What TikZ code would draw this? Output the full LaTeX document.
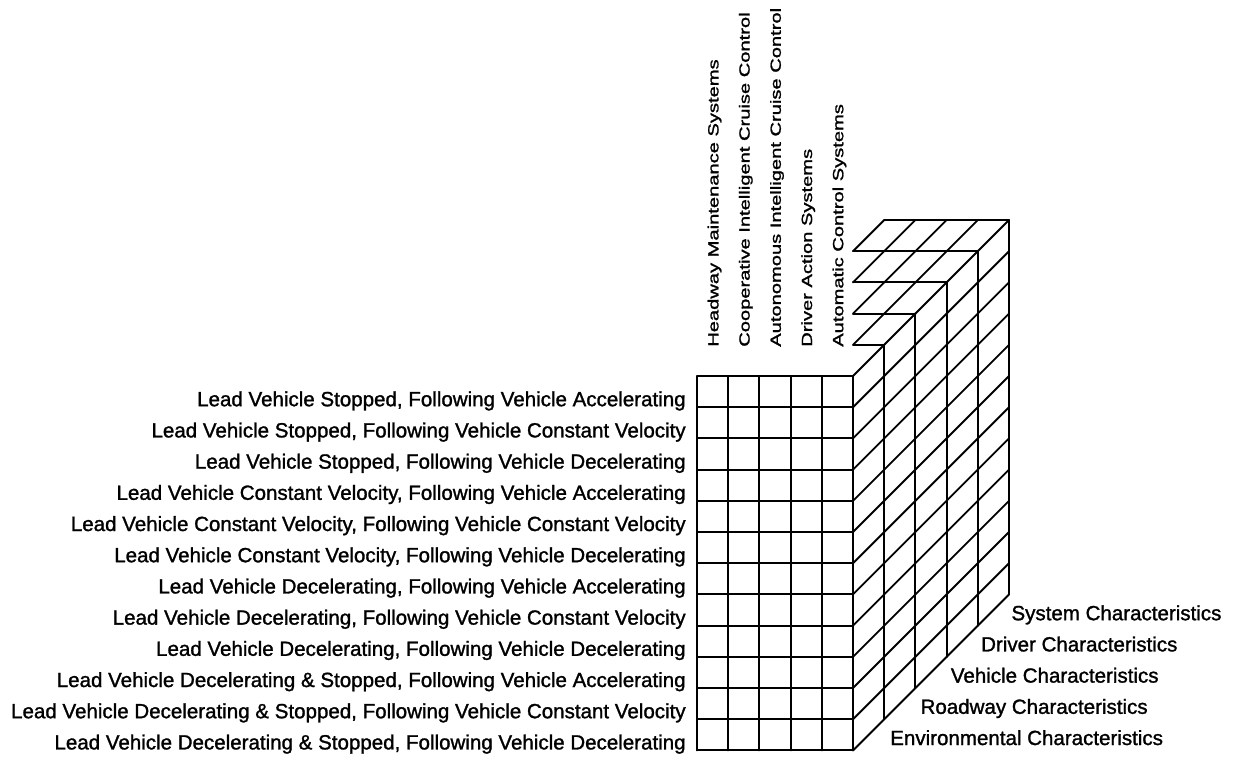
\documentclass[tikz,border=0pt]{standalone}
\usepackage{fontspec}
\newfontfamily\labfont{Liberation Sans}[FakeBold=1.3]
\begin{document}
\begin{tikzpicture}[x=0.75pt,y=-0.75pt,
  gridline/.style={line width=1.4pt,line cap=round,line join=round},
  rowlab/.style={font=\labfont\fontsize{15.4}{18}\selectfont,inner sep=0pt,anchor=base east},
  sidelab/.style={font=\labfont\fontsize{15.4}{18}\selectfont,inner sep=0pt,anchor=base west},
  collab/.style={font=\labfont\fontsize{15.4}{18}\selectfont,inner sep=0pt,anchor=west,rotate=90}]
\useasboundingbox (0,0) rectangle (1234,769);
\def\u{31.2}
\def\xl{697}
\def\xr{853}
\def\yt{376}
% front face grid
\foreach \j in {0,...,5}{
  \draw[gridline] ({\xl+\j*\u},\yt) -- ({\xl+\j*\u},{\yt+12*\u});
}
\foreach \i in {0,...,12}{
  \draw[gridline] (\xl,{\yt+\i*\u}) -- (\xr,{\yt+\i*\u});
}
% right face: verticals per depth slice
\foreach \k in {1,...,5}{
  \draw[gridline] ({\xr+\k*\u},{\yt-\k*\u}) -- ({\xr+\k*\u},{\yt+12*\u-\k*\u});
}
% right face: diagonals per row boundary
\foreach \i in {0,...,12}{
  \draw[gridline] (\xr,{\yt+\i*\u}) -- ({\xr+5*\u},{\yt+\i*\u-5*\u});
}
% top staircase: horizontal treads
\foreach \k in {1,...,4}{
  \draw[gridline] (\xr,{\yt-\k*\u}) -- ({\xr+\k*\u},{\yt-\k*\u});
}
\draw[gridline] ({\xr+\u},{\yt-5*\u}) -- ({\xr+5*\u},{\yt-5*\u});
% top staircase: diagonals
\foreach \k in {1,...,4}{
  \pgfmathtruncatemacro{\mm}{\k-1}
  \foreach \m in {0,...,\mm}{
    \draw[gridline] ({\xr+\m*\u},{\yt-\k*\u}) -- ({\xr+(\m+1)*\u},{\yt-(\k+1)*\u});
  }
}
% row labels
\foreach \t [count=\i] in {
  {Lead Vehicle Stopped, Following Vehicle Accelerating},
  {Lead Vehicle Stopped, Following Vehicle Constant Velocity},
  {Lead Vehicle Stopped, Following Vehicle Decelerating},
  {Lead Vehicle Constant Velocity, Following Vehicle Accelerating},
  {Lead Vehicle Constant Velocity, Following Vehicle Constant Velocity},
  {Lead Vehicle Constant Velocity, Following Vehicle Decelerating},
  {Lead Vehicle Decelerating, Following Vehicle Accelerating},
  {Lead Vehicle Decelerating, Following Vehicle Constant Velocity},
  {Lead Vehicle Decelerating, Following Vehicle Decelerating},
  {Lead Vehicle Decelerating \& Stopped, Following Vehicle Accelerating},
  {Lead Vehicle Decelerating \& Stopped, Following Vehicle Constant Velocity},
  {Lead Vehicle Decelerating \& Stopped, Following Vehicle Decelerating}}{
  \node[rowlab] (row\i) at (686,{\yt+\i*\u-1}) {\t};
}
% column labels
\foreach \t [count=\j] in {
  {Headway Maintenance Systems},
  {Cooperative Intelligent Cruise Control},
  {Autonomous Intelligent Cruise Control},
  {Driver Action Systems},
  {Automatic Control Systems}}{
  \node[collab] (col\j) at ({\xl+(\j-0.5)*\u+2},347) {\scalebox{0.98}[0.72]{\t}};
}
% depth labels
\foreach \t [count=\k] in {
  {Environmental Characteristics},
  {Roadway Characteristics},
  {Vehicle Characteristics},
  {Driver Characteristics},
  {System Characteristics}}{
  \node[sidelab] (dep\k) at ({890+(\k-1)*30.3},{745-(\k-1)*31.2}) {\t};
}
\end{tikzpicture}
\end{document}
